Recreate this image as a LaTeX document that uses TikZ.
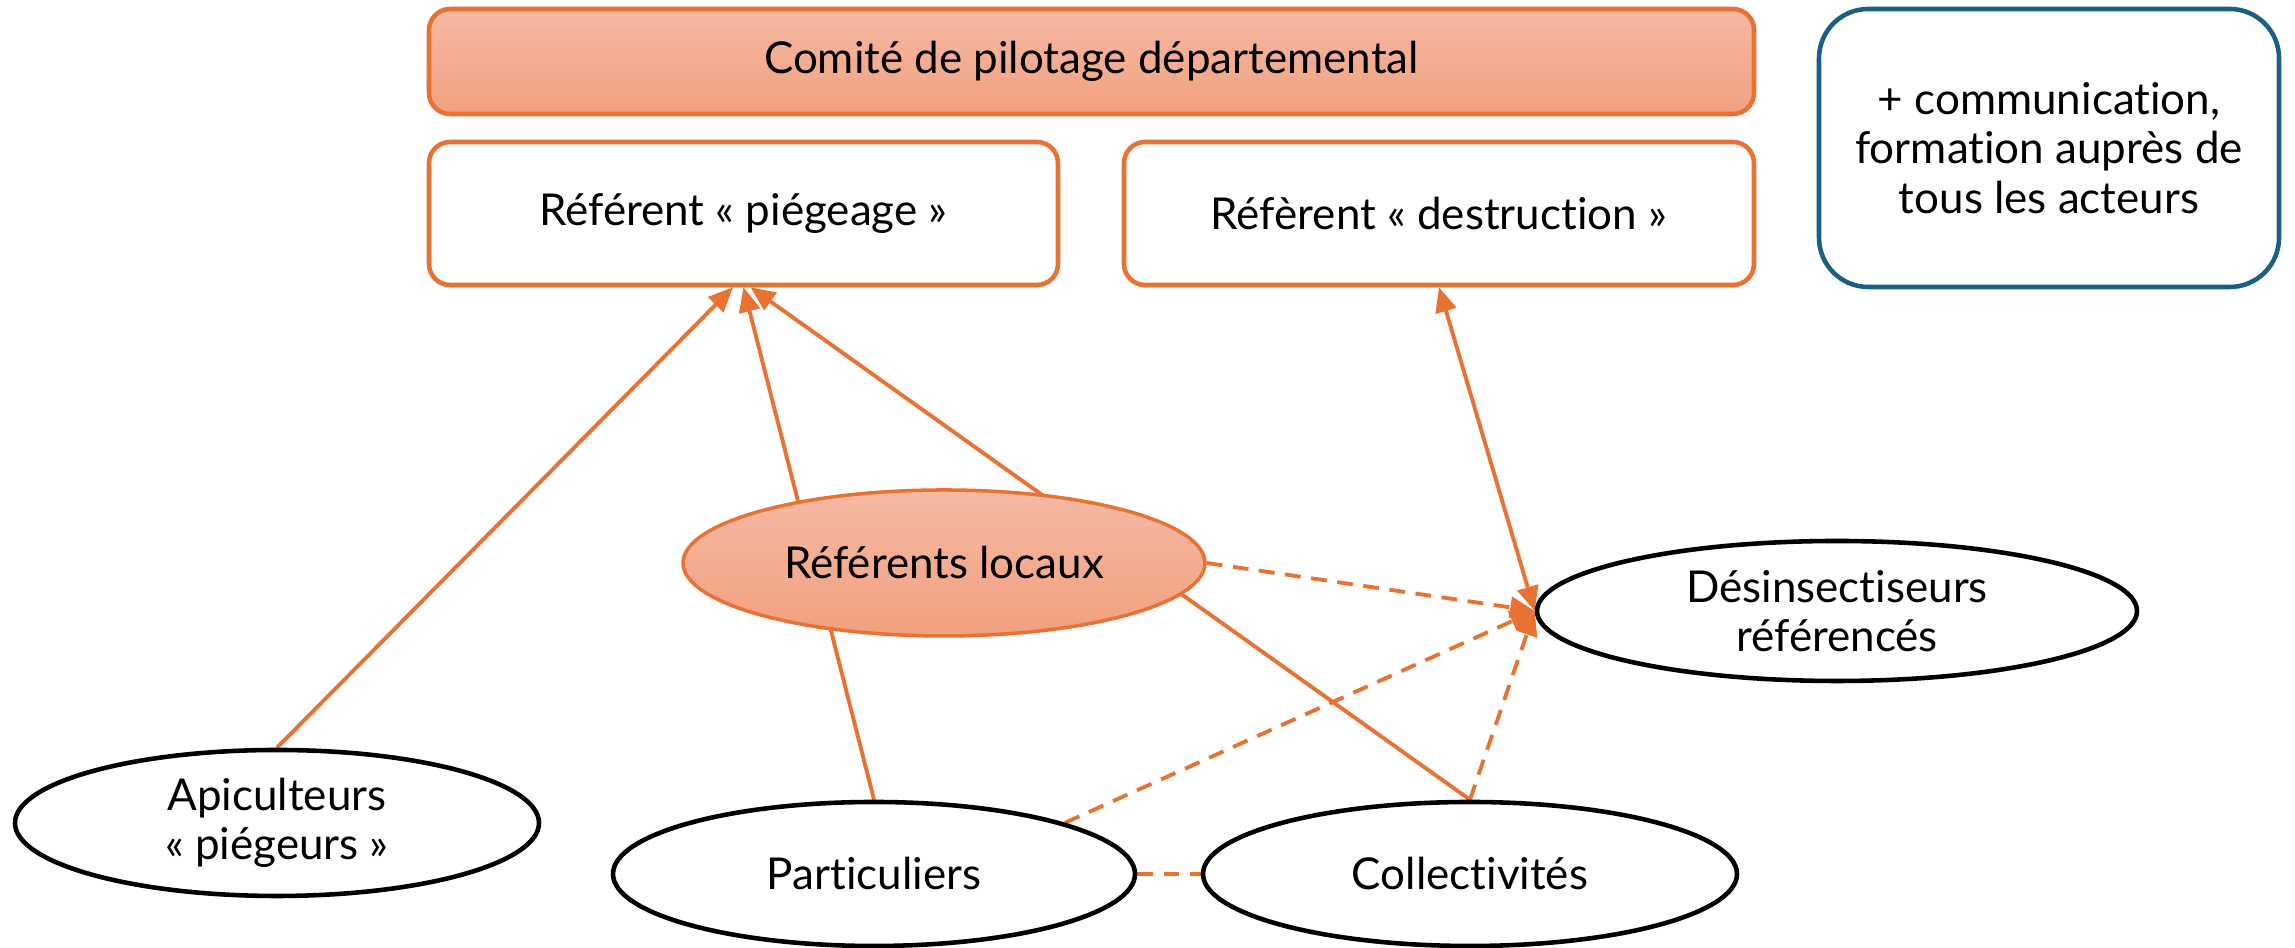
\documentclass[tikz,border=0pt]{standalone}
\usepackage{fontspec}
\setmainfont{Lato}[Ligatures={NoCommon}]
\usetikzlibrary{arrows.meta,shapes.geometric,backgrounds}
\definecolor{accorange}{HTML}{E97132}
\definecolor{peachtop}{HTML}{F5B9A3}
\definecolor{peachbot}{HTML}{F2A07F}
\definecolor{accblue}{HTML}{1A5F85}
\begin{document}
\begin{tikzpicture}[
    every node/.style={font=\fontsize{12.5}{14}\selectfont, align=center},
    refbox/.style={draw=accorange, line width=1.3pt, rounded corners=6pt, fill=white, minimum height=1.43cm},
    actor/.style={ellipse, draw=black, line width=1.3pt, fill=white, inner sep=0pt},
    link/.style={draw=accorange, line width=1.1pt},
    tip/.style={-{Triangle[length=7pt,width=6pt]}},
    dashlink/.style={link, dash pattern=on 4.5pt off 3pt}
  ]
  \useasboundingbox (0,0) rectangle (22.95,9.48);
  \node[refbox, top color=peachtop, bottom color=peachbot, minimum width=13.25cm, minimum height=1.05cm] (comite) at (10.915,8.865) {Comité de pilotage départemental};
  \node[refbox, minimum width=6.29cm] (piegeage) at (7.435,7.345) {Référent « piégeage »};
  \node[refbox, minimum width=6.30cm] (destruction) at (14.39,7.345) {Réfèrent « destruction »};
  \node[draw=accblue, line width=1.3pt, rounded corners=14pt, minimum width=4.6cm, minimum height=2.78cm] (comm) at (20.49,8.0) {+ communication,\\formation auprès de\\tous les acteurs};
  \node[actor, draw=accorange, line width=1pt, top color=peachtop, bottom color=peachbot, minimum width=5.22cm, minimum height=1.46cm] (locaux) at (9.44,3.85) {Référents locaux};
  \node[actor, minimum width=6.0cm, minimum height=1.40cm] (desins) at (18.37,3.37) {Désinsectiseurs\\référencés};
  \node[actor, minimum width=5.24cm, minimum height=1.46cm] (apicult) at (2.77,1.25) {Apiculteurs\\« piégeurs »};
  \node[actor, minimum width=5.22cm, minimum height=1.44cm] (partic) at (8.74,0.74) {Particuliers};
  \node[actor, minimum width=5.34cm, minimum height=1.44cm] (collect) at (14.70,0.74) {Collectivités};
  \begin{scope}[on background layer]
    \draw[link, tip] (apicult.north) -- ([xshift=-3pt]piegeage.south);
    \draw[link, tip] (partic.north) -- (piegeage.south);
    \draw[link, tip] (collect.north) -- ([xshift=2pt]piegeage.south);
    \draw[link, {Triangle[length=7pt,width=6pt]}-{Triangle[length=7pt,width=6pt]}] (desins.west) -- (destruction.south);
    \draw[dashlink, tip] (locaux.east) -- (desins.west);
    \draw[dashlink, tip] (partic.15) -- (desins.west);
    \draw[dashlink, tip] (collect.north) -- (desins.west);
    \draw[dashlink] (partic.east) -- (collect.west);
  \end{scope}
\end{tikzpicture}
\end{document}
